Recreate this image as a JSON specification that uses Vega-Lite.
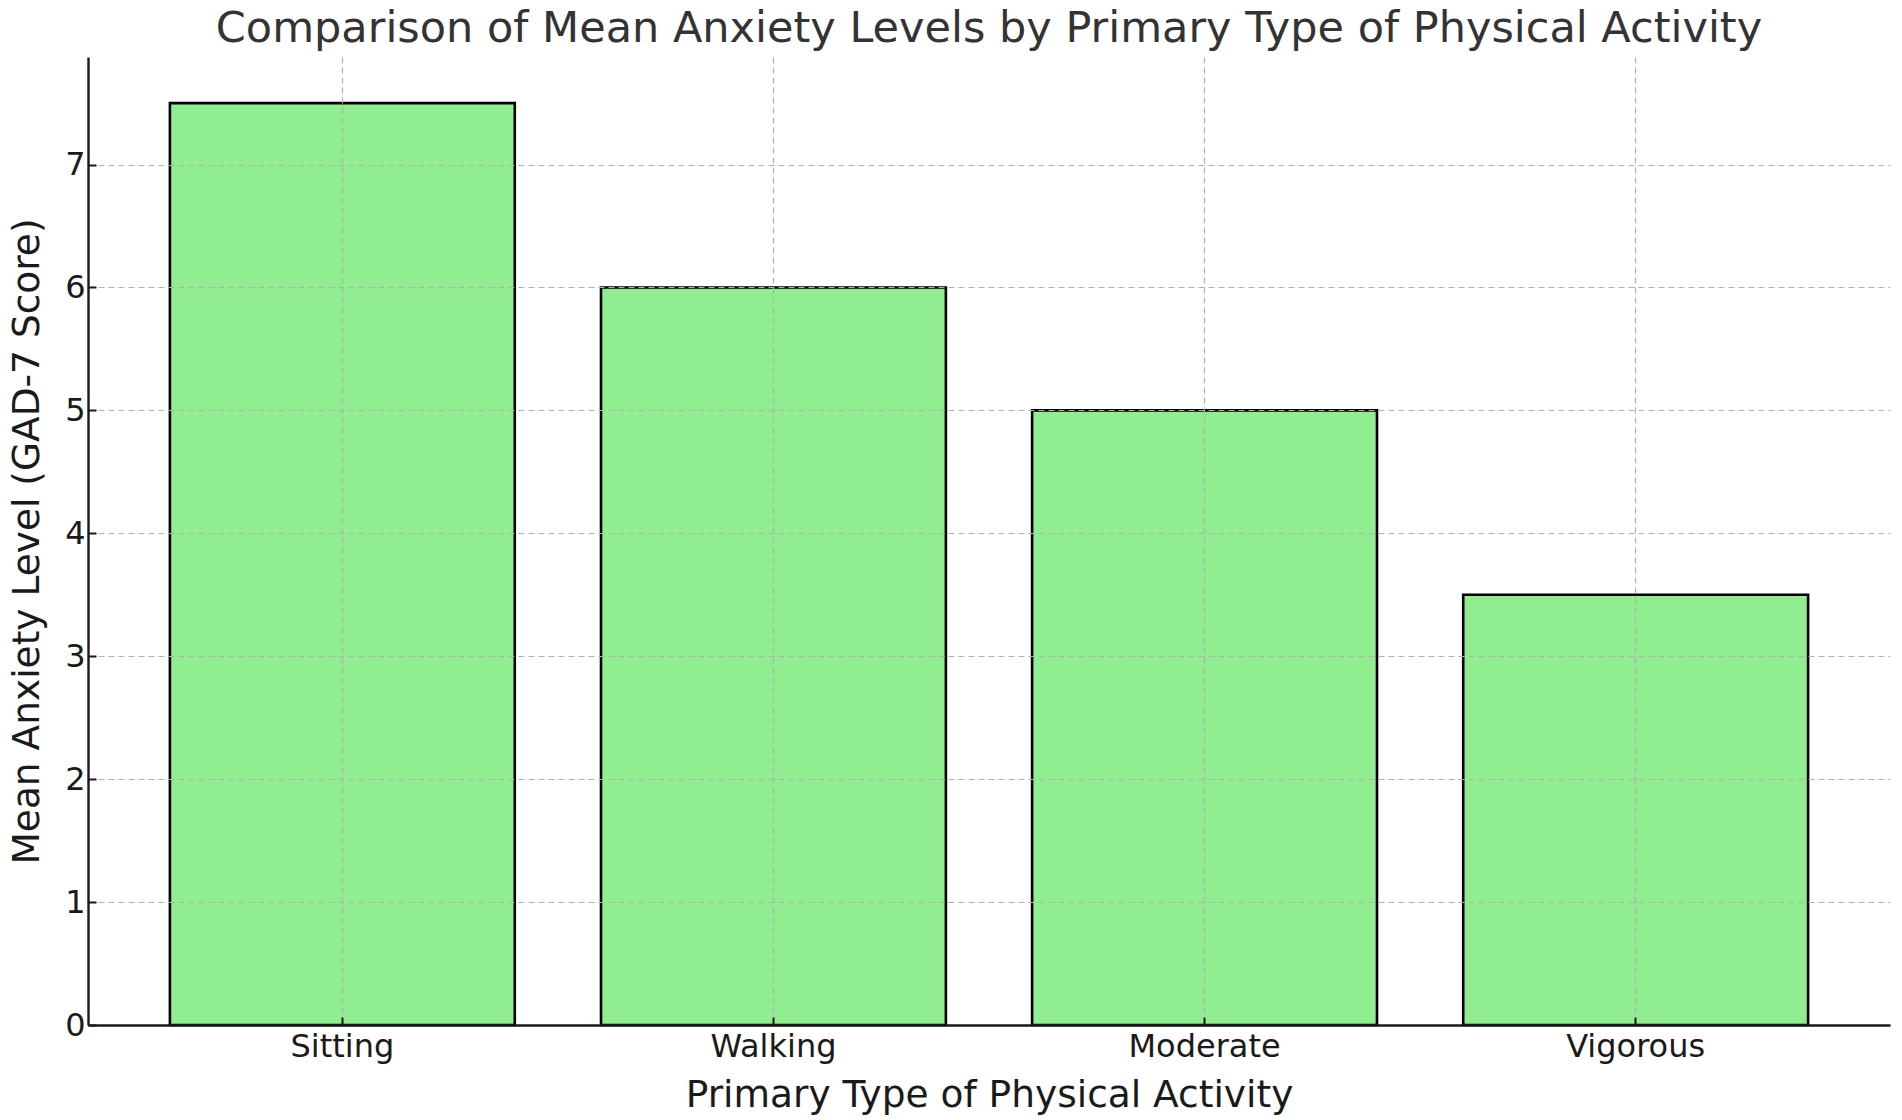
{
  "$schema": "https://vega.github.io/schema/vega-lite/v6.json",
  "autosize": {"type": "none"},
  "width": 1802,
  "height": 968,
  "padding": {"left": 88, "top": 57, "right": 12, "bottom": 95},
  "background": "white",
  "config": {
    "view": {"stroke": null},
    "font": "DejaVu Sans"
  },
  "title": {
    "text": "Comparison of Mean Anxiety Levels by Primary Type of Physical Activity",
    "fontSize": 43,
    "fontWeight": "normal",
    "color": "#333333",
    "anchor": "middle",
    "offset": 6
  },
  "data": {
    "values": [
      {"activity": "Sitting", "anxiety": 7.5},
      {"activity": "Walking", "anxiety": 6.0},
      {"activity": "Moderate", "anxiety": 5.0},
      {"activity": "Vigorous", "anxiety": 3.5}
    ]
  },
  "mark": {"type": "bar", "color": "#90EE90", "stroke": "black", "strokeWidth": 2.6},
  "encoding": {
    "x": {
      "field": "activity",
      "type": "nominal",
      "sort": null,
      "title": "Primary Type of Physical Activity",
      "scale": {"paddingInner": 0.2, "paddingOuter": 0.19},
      "axis": {
        "bandPosition": 0.5,
        "labelAngle": 0,
        "labelFontSize": 32,
        "labelColor": "#1a1a1a",
        "labelPadding": 14,
        "titleFontSize": 37.5,
        "titleFontWeight": "normal",
        "titleColor": "#1a1a1a",
        "titlePadding": 14,
        "domainColor": "#1a1a1a",
        "domainWidth": 2.4,
        "tickColor": "#1a1a1a",
        "tickSize": -8,
        "tickWidth": 2,
        "grid": true,
        "gridColor": "#b0b0b0",
        "gridDash": [6, 4],
        "gridWidth": 1.2,
        "zindex": 1
      }
    },
    "y": {
      "field": "anxiety",
      "type": "quantitative",
      "title": "Mean Anxiety Level (GAD-7 Score)",
      "scale": {"domain": [0, 7.875], "nice": false},
      "axis": {
        "values": [0, 1, 2, 3, 4, 5, 6, 7],
        "labelFontSize": 32,
        "labelColor": "#1a1a1a",
        "labelPadding": 11,
        "titleFontSize": 37.5,
        "titleFontWeight": "normal",
        "titleColor": "#1a1a1a",
        "titlePadding": 18,
        "domainColor": "#1a1a1a",
        "domainWidth": 2.4,
        "tickColor": "#1a1a1a",
        "tickSize": -8,
        "tickWidth": 2,
        "grid": true,
        "gridColor": "#b0b0b0",
        "gridDash": [6, 4],
        "gridWidth": 1.2,
        "zindex": 1
      }
    }
  }
}
